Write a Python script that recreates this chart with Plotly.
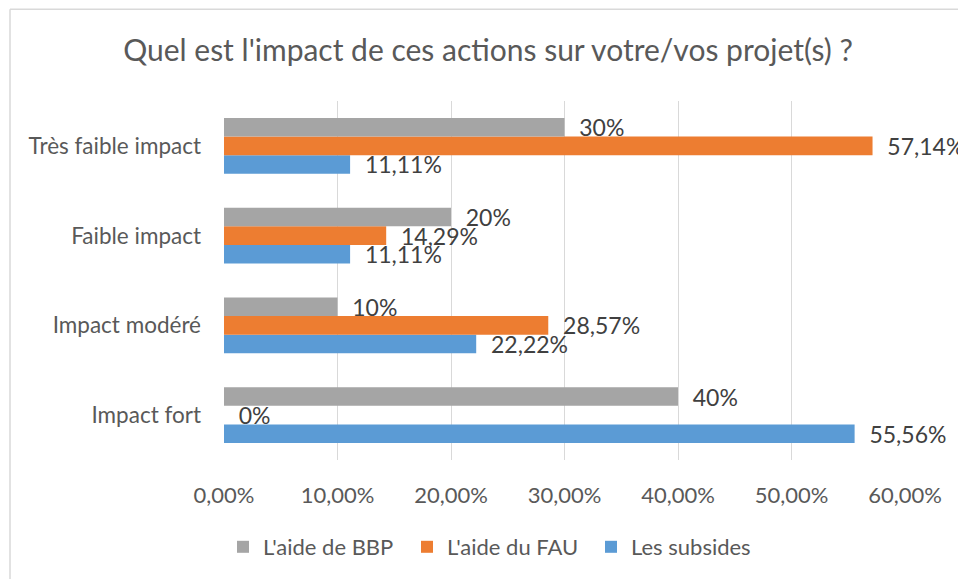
import plotly.graph_objects as go

categories = ["Impact fort", "Impact modéré", "Faible impact", "Très faible impact"]
bbp = [40, 10, 20, 30]
fau = [0, 28.57, 14.29, 57.14]
subsides = [55.56, 22.22, 11.11, 11.11]
series_names = ["L'aide de BBP", "L'aide du FAU", "Les subsides"]
tick_vals = [0, 10, 20, 30, 40, 50, 60]
tick_text = ["0,00%", "10,00%", "20,00%", "30,00%", "40,00%", "50,00%", "60,00%"]

FONT = "Lato"
colors = {"L'aide de BBP": "#A5A5A5", "L'aide du FAU": "#ED7D31", "Les subsides": "#5B9BD5"}

# page body margin is removed by the post script, so figure pixels = page pixels
W, H = 958, 579
PL, PR, PT, PB = 224, 905, 101, 461
PW, PH = PR - PL, PB - PT


def fmt(v):
    return "\u00a0\u00a0" + f"{v:g}".replace(".", ",") + "%"


def px(x):
    return (x - PL) / PW


def py(y):
    return (PB - y) / PH


fig = go.Figure()
for name, vals in [(series_names[2], subsides), (series_names[1], fau), (series_names[0], bbp)]:
    fig.add_trace(go.Bar(
        y=categories, x=vals, name=name, orientation="h",
        marker=dict(color=colors[name], line=dict(width=0)),
        text=[fmt(v) for v in vals], textposition="outside",
        textfont=dict(family=FONT, size=23, color="#404040"),
        cliponaxis=False, constraintext="none", hoverinfo="skip",
    ))

fig.update_layout(
    width=W, height=H,
    margin=dict(l=PL, r=W - PR, t=PT, b=H - PB),
    paper_bgcolor="white", plot_bgcolor="white",
    barmode="group", bargap=0.38, bargroupgap=0,
    font=dict(family=FONT, color="#595959"),
    title=dict(text="Quel est l'impact de ces actions sur votre/vos projet(s) ?",
               x=488 / W, xref="container", xanchor="center",
               y=1 - 50 / H, yref="container", yanchor="middle",
               font=dict(family=FONT, size=30, color="#595959")),
    xaxis=dict(range=[0, 60], tickvals=tick_vals, ticktext=tick_text,
               showgrid=True, gridcolor="#D9D9D9", gridwidth=1.3,
               zeroline=False, showline=False, ticks="",
               ticklabelstandoff=20,
               tickfont=dict(family=FONT, size=22, color="#595959"),
               fixedrange=True),
    yaxis=dict(showgrid=False, zeroline=False, showline=False, ticks="",
               ticklabelstandoff=22,
               tickfont=dict(family=FONT, size=22.5, color="#595959"),
               categoryorder="array", categoryarray=categories,
               fixedrange=True),
    legend=dict(orientation="h", x=px(245 - 22), xanchor="left",
                y=py(547), yanchor="middle",
                traceorder="reversed",
                entrywidth=139, entrywidthmode="pixels",
                font=dict(family=FONT, size=22, color="#595959"),
                itemwidth=30),
    showlegend=True,
)

border = dict(color="#D9D9D9", width=1.5)
fig.add_shape(type="line", xref="paper", yref="paper",
              x0=px(10), x1=px(990), y0=py(9), y1=py(9), line=border, layer="below")
fig.add_shape(type="line", xref="paper", yref="paper",
              x0=px(10), x1=px(10), y0=py(9), y1=py(600), line=border, layer="below")

fig.write_html(
    "out.html",
    config={"displayModeBar": False},
    post_script="document.body.style.margin='0px';"
                "document.documentElement.style.overflow='hidden';"
                "document.body.style.overflow='hidden';",
)
